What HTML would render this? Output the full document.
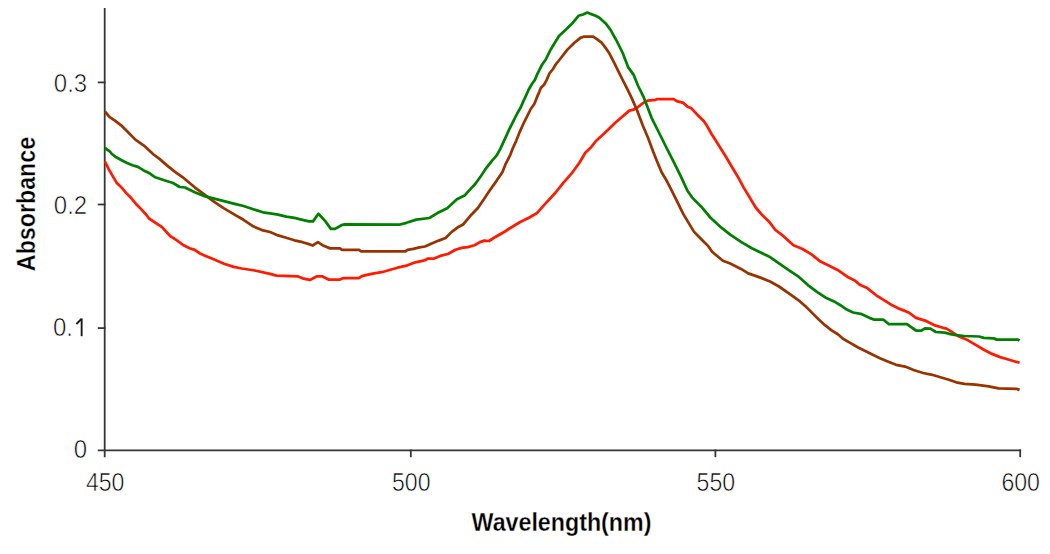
<!DOCTYPE html>
<html><head><meta charset="utf-8"><style>
html,body{margin:0;padding:0;background:#fff;width:1050px;height:554px;overflow:hidden;}
svg{display:block;font-family:"Liberation Sans",sans-serif;}
</style></head><body>
<svg width="1050" height="554" viewBox="0 0 1050 554">
<rect width="1050" height="554" fill="#fff"/>
<g stroke="#363636" stroke-width="1.8" fill="none" stroke-linecap="square">
<line x1="104.7" y1="9" x2="104.7" y2="456.3"/>
<line x1="98.7" y1="450.3" x2="1020.2" y2="450.3"/>
<line x1="98.7" y1="328.1" x2="104.7" y2="328.1"/>
<line x1="98.7" y1="204.5" x2="104.7" y2="204.5"/>
<line x1="98.7" y1="82.4" x2="104.7" y2="82.4"/>
<line x1="410.8" y1="450.3" x2="410.8" y2="456.3"/>
<line x1="715.4" y1="450.3" x2="715.4" y2="456.3"/>
<line x1="1020.2" y1="450.3" x2="1020.2" y2="456.3"/>
</g>
<polyline points="104.9,161.5 108.7,169.1 113.0,176.6 116.8,183.1 121.6,187.5 126.0,192.9 131.4,198.3 136.8,204.8 141.1,209.1 146.5,215.0 149.0,218.5 157.1,223.9 162.0,227.1 170.1,236.0 176.6,240.1 183.1,245.0 189.6,248.2 194.7,249.9 200.0,253.5 204.5,255.5 214.2,259.6 224.0,263.7 233.7,266.9 241.9,268.5 254.8,270.5 270.0,273.9 276.5,275.7 297.6,276.3 302.5,278.3 309.8,279.9 317.1,276.3 322.0,276.3 328.5,279.6 340.0,279.6 343.0,278.2 358.8,278.2 361.8,276.2 365.8,275.2 372.7,273.7 381.7,272.2 388.6,270.2 397.5,267.7 407.5,265.3 415.4,262.3 422.3,260.8 425.0,260.2 428.0,258.5 434.1,258.5 440.2,255.9 447.9,254.0 455.5,249.8 461.6,247.9 467.7,247.1 474.5,245.2 479.9,242.1 484.4,240.6 489.0,241.0 493.6,238.0 499.7,234.5 505.0,231.5 509.9,228.2 519.8,222.3 529.8,217.3 536.7,213.3 545.6,203.4 555.6,192.5 563.5,182.6 571.4,173.7 579.4,162.7 585.3,152.8 591.3,146.9 596.4,140.5 602.0,135.5 608.6,129.3 615.0,123.0 621.6,117.2 629.3,110.6 633.7,109.6 637.8,107.2 641.9,103.9 644.3,102.3 647.6,100.7 655.7,99.9 656.5,99.1 673.6,99.1 676.8,101.2 683.3,102.9 687.6,106.7 691.4,108.3 696.3,113.7 703.9,121.3 707.1,126.1 711.4,133.7 717.9,144.0 725.9,156.8 731.8,166.8 737.8,176.7 743.7,187.6 749.7,197.5 755.7,207.5 761.6,214.4 769.6,222.3 775.4,230.0 782.6,235.4 793.5,245.3 802.5,249.0 811.5,254.4 820.5,261.6 829.6,266.1 838.6,270.6 847.6,276.9 854.8,280.5 860.3,285.1 867.2,288.1 876.2,295.3 883.5,299.9 890.7,304.4 899.7,308.9 908.7,312.5 916.0,317.9 925.0,320.6 934.0,325.1 943.0,327.8 946.5,328.7 953.0,332.7 959.5,336.8 967.6,340.1 975.7,344.9 983.9,349.8 992.0,353.9 1000.1,357.1 1008.2,359.5 1019.6,362.8" fill="none" stroke="#ff1a00" stroke-width="2.75" stroke-linejoin="round" stroke-linecap="butt"/>
<polyline points="104.9,111.5 109.7,117.2 114.6,120.4 121.1,125.3 127.6,131.8 135.7,139.9 143.9,145.6 153.6,154.5 160.1,159.4 166.6,165.1 174.7,171.6 182.8,177.3 186.6,180.5 194.7,187.3 204.5,194.6 214.2,201.9 224.0,208.4 233.7,214.1 243.5,219.8 253.2,226.3 263.0,230.4 270.0,232.0 278.1,235.4 286.2,237.7 294.4,240.3 302.5,242.2 308.2,243.9 312.6,245.5 317.9,242.2 323.6,245.8 330.1,248.4 340.0,248.4 342.0,249.9 359.3,249.9 360.8,251.4 405.5,251.4 407.5,249.9 413.4,248.9 419.4,247.4 425.0,246.5 431.1,243.7 438.7,240.6 445.6,238.0 451.7,231.9 457.8,227.3 463.1,224.5 469.9,216.3 477.9,208.0 483.7,199.4 489.5,190.7 496.7,180.6 502.5,171.9 505.3,164.7 510.4,154.6 512.6,148.8 516.3,140.6 519.9,131.6 523.5,123.5 527.1,116.3 530.7,109.0 534.3,104.0 536.7,97.9 539.4,91.6 540.8,88.0 544.0,84.8 546.7,79.9 549.4,73.5 553.0,69.0 555.7,64.5 559.3,60.0 567.2,49.9 574.1,43.0 580.4,37.9 583.6,36.7 593.1,36.7 596.9,39.2 601.6,42.7 605.4,47.6 609.7,54.1 614.1,62.7 618.4,71.4 622.7,80.0 627.1,88.7 631.4,97.4 637.2,110.8 642.7,125.3 648.1,138.0 653.5,152.4 657.1,161.4 661.6,172.3 667.0,181.3 671.6,190.4 676.1,199.4 683.2,213.9 688.6,222.9 694.1,231.9 701.3,239.2 708.5,246.4 712.1,251.8 717.5,256.3 722.9,260.8 730.2,263.5 741.0,268.9 748.2,273.4 759.0,277.1 770.0,281.5 779.0,286.5 789.9,294.1 800.0,301.4 806.3,307.1 812.6,313.4 819.0,319.7 825.3,325.4 831.6,330.4 837.9,334.2 843.0,338.7 850.6,343.1 858.1,347.5 865.7,351.3 873.3,355.1 880.0,358.2 887.1,361.2 896.1,364.8 905.1,366.6 914.2,370.3 923.2,373.0 932.2,374.8 941.2,377.5 948.1,379.5 956.2,382.3 964.4,383.9 975.7,384.7 988.7,386.3 998.5,388.3 1016.3,388.8 1019.6,389.9" fill="none" stroke="#993300" stroke-width="2.75" stroke-linejoin="round" stroke-linecap="butt"/>
<polyline points="104.9,148.0 109.7,151.3 111.9,154.0 116.2,157.3 121.6,160.2 127.1,163.0 132.5,165.3 137.9,166.9 143.3,170.2 150.0,173.6 155.2,177.3 165.0,180.5 173.1,183.0 179.6,187.0 185.0,187.5 194.7,192.2 204.5,196.2 214.2,198.7 224.0,201.1 233.7,203.6 243.5,206.0 253.2,209.2 263.0,212.3 270.0,213.3 278.1,214.6 286.2,216.6 294.4,217.9 302.5,219.8 309.0,221.4 313.0,221.4 318.4,213.8 325.2,221.1 330.9,228.9 335.0,228.9 341.5,225.2 344.7,224.4 400.0,224.5 406.5,222.8 416.3,219.6 429.3,218.0 437.4,213.1 447.2,208.2 456.9,199.3 465.0,195.2 471.5,187.9 475.0,184.2 480.8,176.2 486.6,167.6 492.3,160.3 496.7,155.3 500.3,148.8 505.4,137.9 509.0,129.8 513.5,120.8 517.2,113.5 520.8,107.2 523.5,100.9 525.0,97.9 528.6,89.8 532.2,83.5 534.9,79.9 536.7,75.4 539.4,69.9 542.2,64.5 545.8,59.5 550.1,50.6 553.9,44.2 559.0,36.0 567.8,27.8 572.9,22.7 578.5,15.8 583.0,14.5 587.4,12.6 590.6,13.9 595.6,15.8 599.4,17.7 605.7,23.4 610.8,30.3 616.2,40.0 622.7,53.0 628.1,67.1 633.5,74.6 637.9,85.5 643.3,96.3 648.8,110.4 651.7,118.1 658.9,132.5 666.1,147.0 673.4,161.4 680.6,175.9 687.3,190.4 692.2,197.6 701.3,206.7 710.3,217.5 721.1,227.4 730.2,234.6 741.0,241.9 751.8,248.2 762.6,253.6 770.0,257.1 779.0,263.4 788.0,269.7 798.9,276.9 807.9,285.1 816.9,291.8 825.3,297.4 834.1,301.4 840.4,305.2 846.8,309.6 853.1,312.5 860.7,313.8 865.7,315.9 870.8,318.4 874.4,319.7 883.5,319.7 888.9,324.2 906.9,324.2 916.0,330.5 921.4,330.5 925.0,328.4 930.4,328.7 935.8,332.0 944.8,332.7 950.3,334.2 956.2,335.2 964.4,336.0 979.0,336.5 983.9,337.9 993.6,338.4 996.9,339.6 1018.0,339.6 1019.6,340.5" fill="none" stroke="#008000" stroke-width="2.75" stroke-linejoin="round" stroke-linecap="butt"/>
<text transform="translate(87.2,458.2) scale(0.96,1)" font-family="'Liberation Sans', sans-serif" stroke="#fff" font-size="25" text-anchor="end" fill="#000" stroke-width="0.6">0</text>
<text transform="translate(72.90,336.2) scale(0.96,1)" font-family="'Liberation Sans', sans-serif" stroke="#fff" font-size="25" text-anchor="end" fill="#000" stroke-width="0.6">0.</text>
<path d="M80.7 318.4 H82.6 V336.2 H80.7 Z" fill="#1a1a1a"/>
<path d="M76.4 324.0 L81.4 319.0" stroke="#1a1a1a" stroke-width="1.8" fill="none"/>
<text transform="translate(87.2,214.1) scale(0.96,1)" font-family="'Liberation Sans', sans-serif" stroke="#fff" font-size="25" text-anchor="end" fill="#000" stroke-width="0.6">0.2</text>
<text transform="translate(87.2,91.5) scale(0.96,1)" font-family="'Liberation Sans', sans-serif" stroke="#fff" font-size="25" text-anchor="end" fill="#000" stroke-width="0.6">0.3</text>
<text transform="translate(105.2,491.2) scale(0.925,1)" x="0" y="0" font-family="'Liberation Sans', sans-serif" stroke="#fff" font-size="25" text-anchor="middle" fill="#000" stroke-width="0.6">450</text>
<text transform="translate(411.3,491.2) scale(0.925,1)" x="0" y="0" font-family="'Liberation Sans', sans-serif" stroke="#fff" font-size="25" text-anchor="middle" fill="#000" stroke-width="0.6">500</text>
<text transform="translate(715.9,491.2) scale(0.925,1)" x="0" y="0" font-family="'Liberation Sans', sans-serif" stroke="#fff" font-size="25" text-anchor="middle" fill="#000" stroke-width="0.6">550</text>
<text transform="translate(1020.7,491.2) scale(0.925,1)" x="0" y="0" font-family="'Liberation Sans', sans-serif" stroke="#fff" font-size="25" text-anchor="middle" fill="#000" stroke-width="0.6">600</text>
<text transform="translate(561.5,531) scale(0.93,1)" font-family="'Liberation Sans', sans-serif" stroke="#fff" font-size="25" font-weight="bold" text-anchor="middle" fill="#000" stroke-width="0.3">Wavelength(nm)</text>
<text transform="translate(34.8,204) rotate(-90) scale(0.93,1)" font-family="'Liberation Sans', sans-serif" stroke="#fff" font-size="25" font-weight="bold" text-anchor="middle" fill="#000" stroke-width="0.3">Absorbance</text>
</svg>
</body></html>
